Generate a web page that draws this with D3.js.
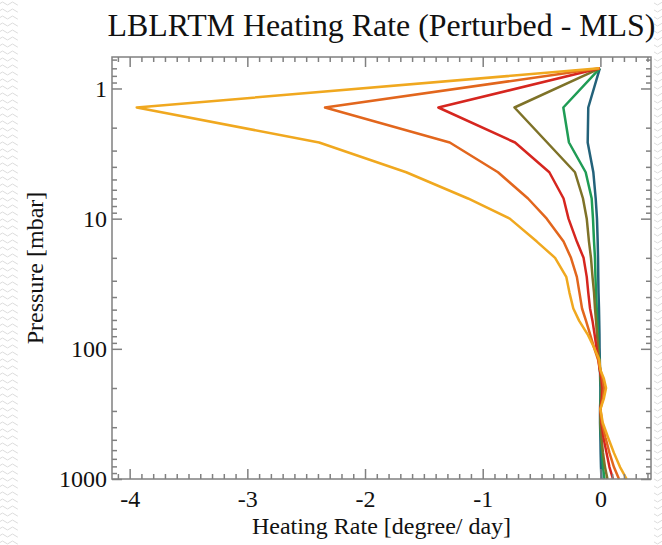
<!DOCTYPE html>
<html>
<head>
<meta charset="utf-8">
<script src="https://cdn.jsdelivr.net/npm/d3@7"></script>
<style>
  html, body { margin: 0; padding: 0; background: #fff; }
  svg { display: block; }
</style>
</head>
<body>
<svg id="chart" width="662" height="545"></svg>
<script>
// Pressure levels (mbar) shared by every profile
const pressure = [0.7, 1.4, 2.6, 4.4, 7, 10, 15, 20, 28, 37, 49, 61, 77, 98,
                  121, 145, 170, 200, 240, 290, 370, 480, 630, 810, 1000];

// Heating-rate differences (degree/day), one profile per perturbation
const rateTeal   = [-0.005, -0.103, -0.108, -0.06, -0.04, -0.029, -0.023, -0.02, -0.018, -0.016, -0.012, -0.01, -0.008, -0.007, -0.005, -0.003, -0.002, 0, 0, -0.003, -0.003, 0, 0.002, 0.005, 0.009];
const rateGreen  = [-0.005, -0.315, -0.267, -0.125, -0.074, -0.063, -0.054, -0.046, -0.042, -0.037, -0.031, -0.026, -0.02, -0.016, -0.01, -0.003, 0.001, 0.005, 0.003, 0, 0, 0.005, 0.014, 0.022, 0.035];
const rateOlive  = [-0.005, -0.73, -0.452, -0.216, -0.148, -0.116, -0.097, -0.08, -0.067, -0.054, -0.046, -0.037, -0.029, -0.02, -0.012, -0.003, 0.003, 0.009, 0.007, 0, 0.001, 0.009, 0.022, 0.039, 0.06];
const rateRed    = [-0.005, -1.377, -0.725, -0.434, -0.313, -0.271, -0.2, -0.143, -0.116, -0.103, -0.088, -0.067, -0.05, -0.033, -0.018, -0.006, 0.009, 0.018, 0.014, 0, 0.009, 0.026, 0.052, 0.077, 0.107];
const rateOrange = [-0.005, -2.34, -1.28, -0.87, -0.615, -0.456, -0.313, -0.25, -0.2, -0.178, -0.156, -0.122, -0.088, -0.054, -0.02, 0, 0.018, 0.03, 0.022, 0, 0.014, 0.043, 0.077, 0.115, 0.158];
const rateYellow = [-0.01, -3.94, -2.39, -1.65, -1.125, -0.77, -0.54, -0.385, -0.29, -0.263, -0.23, -0.18, -0.11, -0.053, -0.01, 0.0, 0.03, 0.048, 0.03, 0.0, 0.02, 0.065, 0.115, 0.167, 0.223];

const profiles = [rateTeal, rateGreen, rateOlive, rateRed, rateOrange, rateYellow];
const colors = ["#23627a", "#1f9c55", "#7e7228", "#d6261f", "#e2661d", "#f0a81f"];

// Axis ticks
const xMajor = [-4, -3, -2, -1, 0];
const xMinor = d3.range(-41, 5).map(i => i / 10).filter(v => Math.abs(v - Math.round(v)) > 1e-6);
const yMajor = [1, 10, 100, 1000];
const yMinor = [0.6, 0.7, 0.8, 0.9]
  .concat(d3.range(2, 10), d3.range(20, 100, 10), d3.range(200, 1000, 100));

const titleText = "LBLRTM Heating Rate (Perturbed - MLS)";
const xTitle = "Heating Rate [degree/ day]";
const yTitle = "Pressure [mbar]";

const W = 662, H = 545;
const plot = { left: 112, right: 651, top: 57, bottom: 479 };
const axisColor = "#808080";
const serif = "'Liberation Serif', 'DejaVu Serif', serif";

const svg = d3.select("#chart");

// Slide-style textured border
const defs = svg.append("defs");
const pat = defs.append("pattern")
  .attr("id", "wave").attr("patternUnits", "userSpaceOnUse")
  .attr("width", 10).attr("height", 7);
pat.append("path")
  .attr("d", "M0,3.5 q2.5,-3 5,0 t5,0")
  .attr("fill", "none").attr("stroke", "#dcdcdc").attr("stroke-width", 1);
svg.append("rect").attr("width", W).attr("height", H).attr("fill", "url(#wave)");
svg.append("rect").attr("x", 18).attr("y", 0).attr("width", 636).attr("height", H).attr("fill", "#fff");

const x = d3.scaleLinear().domain([-4.15, 0.43]).range([plot.left, plot.right]);
const y = d3.scaleLog().domain([1000, 0.573]).range([plot.bottom, plot.top]);

// Profiles
const line = d3.line()
  .x(d => x(d[0]))
  .y(d => y(d[1]));

svg.append("g")
  .selectAll("path")
  .data(profiles)
  .join("path")
  .attr("d", vals => line(vals.map((v, i) => [v, pressure[i]])))
  .attr("fill", "none")
  .attr("stroke", (d, i) => colors[i])
  .attr("stroke-width", 2.5)
  .attr("stroke-linejoin", "round");

// Axes (inward ticks on all four sides)
function styleAxis(g) {
  g.select(".domain").remove();
  g.selectAll(".tick line").attr("stroke", axisColor).attr("stroke-width", 1.5);
  g.selectAll(".tick text")
    .attr("font-family", serif).attr("font-size", 24).attr("fill", "#111");
}
const noLabel = () => "";

svg.append("g").attr("transform", `translate(0,${plot.bottom})`)
  .call(d3.axisBottom(x).tickValues(xMinor).tickSize(-5).tickFormat(noLabel)).call(styleAxis);
svg.append("g").attr("transform", `translate(0,${plot.bottom})`)
  .call(d3.axisBottom(x).tickValues(xMajor).tickSize(-10).tickPadding(11).tickFormat(d => String(d)))
  .call(styleAxis);
svg.append("g").attr("transform", `translate(0,${plot.top})`)
  .call(d3.axisTop(x).tickValues(xMinor).tickSize(-5).tickFormat(noLabel)).call(styleAxis);
svg.append("g").attr("transform", `translate(0,${plot.top})`)
  .call(d3.axisTop(x).tickValues(xMajor).tickSize(-10).tickFormat(noLabel)).call(styleAxis);

svg.append("g").attr("transform", `translate(${plot.left},0)`)
  .call(d3.axisLeft(y).tickValues(yMinor).tickSize(-5).tickFormat(noLabel)).call(styleAxis);
svg.append("g").attr("transform", `translate(${plot.left},0)`)
  .call(d3.axisLeft(y).tickValues(yMajor).tickSize(-10).tickPadding(5).tickFormat(d => String(d)))
  .call(styleAxis);
svg.append("g").attr("transform", `translate(${plot.right},0)`)
  .call(d3.axisRight(y).tickValues(yMinor).tickSize(-5).tickFormat(noLabel)).call(styleAxis);
svg.append("g").attr("transform", `translate(${plot.right},0)`)
  .call(d3.axisRight(y).tickValues(yMajor).tickSize(-10).tickFormat(noLabel)).call(styleAxis);

// Frame
svg.append("rect")
  .attr("x", plot.left).attr("y", plot.top)
  .attr("width", plot.right - plot.left).attr("height", plot.bottom - plot.top)
  .attr("fill", "none").attr("stroke", axisColor).attr("stroke-width", 1.5);

// Title, fitted to the plot width
const title = svg.append("text")
  .attr("x", (plot.left + plot.right) / 2).attr("y", 36)
  .attr("text-anchor", "middle")
  .attr("font-family", serif).attr("font-size", 34).attr("fill", "#111")
  .text(titleText);
const tw = title.node().getComputedTextLength();
title.attr("font-size", 34 * 548 / tw);

// Axis titles
svg.append("text")
  .attr("x", (plot.left + plot.right) / 2).attr("y", 534)
  .attr("text-anchor", "middle")
  .attr("font-family", serif).attr("font-size", 24).attr("fill", "#111")
  .text(xTitle);
svg.append("text")
  .attr("transform", `translate(43,${(plot.top + plot.bottom) / 2}) rotate(-90)`)
  .attr("text-anchor", "middle")
  .attr("font-family", serif).attr("font-size", 24).attr("fill", "#111")
  .text(yTitle);
</script>
</body>
</html>
